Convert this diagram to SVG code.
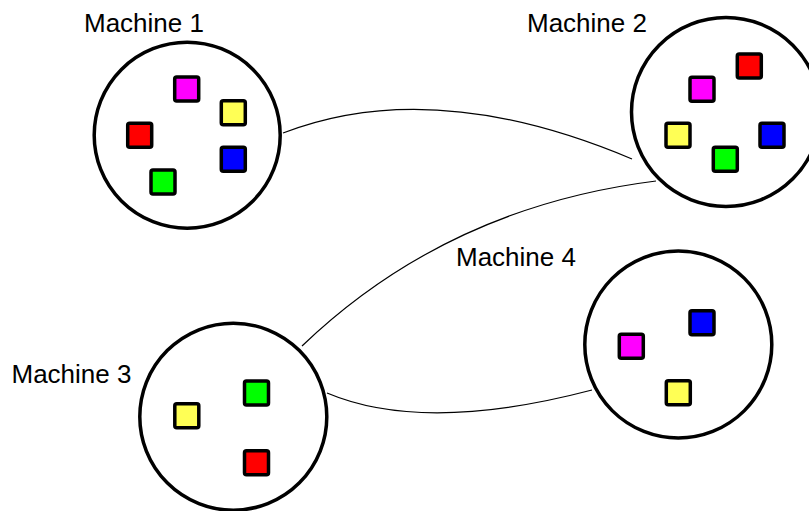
<svg xmlns="http://www.w3.org/2000/svg" width="809" height="511" viewBox="0 0 809 511">
<style>
.m{fill:#fff;stroke:#000;stroke-width:3.5}
.s{stroke:#000;stroke-width:3.5}
.r{fill:#ff0000}.g{fill:#00ff00}.b{fill:#0000ff}.y{fill:#ffff55}.p{fill:#ff00ff}
.c{fill:none;stroke:#000;stroke-width:1.2}
text{font-family:"Liberation Sans",Arial,sans-serif;font-size:26px;fill:#000}
</style>
<rect width="809" height="511" fill="#fff"/>
<g id="connectors">
<path class="c" d="M283,133 Q433,75 632,159"/>
<path class="c" d="M302,346 Q447,207 656,181"/>
<path class="c" d="M327,393 Q424,434 592,390"/>
</g>
<g id="machine1">
<circle class="m" cx="187.2" cy="135.2" r="93"/>
<rect class="s p" x="174.7" y="77" width="24" height="24" rx="2"/>
<rect class="s y" x="221.3" y="100.7" width="24" height="24" rx="2"/>
<rect class="s r" x="127.7" y="123.3" width="24" height="24" rx="2"/>
<rect class="s b" x="221.3" y="147.3" width="24" height="24" rx="2"/>
<rect class="s g" x="151" y="170" width="24" height="24" rx="2"/>
<text x="84" y="32">Machine 1</text>
</g>
<g id="machine2">
<circle class="m" cx="726" cy="112" r="94.5"/>
<rect class="s r" x="737.3" y="54" width="24" height="24" rx="2"/>
<rect class="s p" x="690" y="77.3" width="24" height="24" rx="2"/>
<rect class="s y" x="666" y="123.3" width="24" height="24" rx="2"/>
<rect class="s g" x="713.3" y="147.3" width="24" height="24" rx="2"/>
<rect class="s b" x="760" y="123.3" width="24" height="24" rx="2"/>
<text x="527" y="32">Machine 2</text>
</g>
<g id="machine3">
<circle class="m" cx="233.3" cy="416.7" r="93.5"/>
<rect class="s y" x="174.8" y="403.8" width="24" height="24" rx="2"/>
<rect class="s g" x="244.5" y="381" width="24" height="24" rx="2"/>
<rect class="s r" x="244.5" y="450.7" width="24" height="24" rx="2"/>
<text x="11.5" y="382.7">Machine 3</text>
</g>
<g id="machine4">
<circle class="m" cx="678.3" cy="344.5" r="93.5"/>
<rect class="s p" x="619.3" y="334.3" width="24" height="24" rx="2"/>
<rect class="s b" x="690" y="310.7" width="24" height="24" rx="2"/>
<rect class="s y" x="666.3" y="380.7" width="24" height="24" rx="2"/>
<text x="456" y="266">Machine 4</text>
</g>
</svg>
